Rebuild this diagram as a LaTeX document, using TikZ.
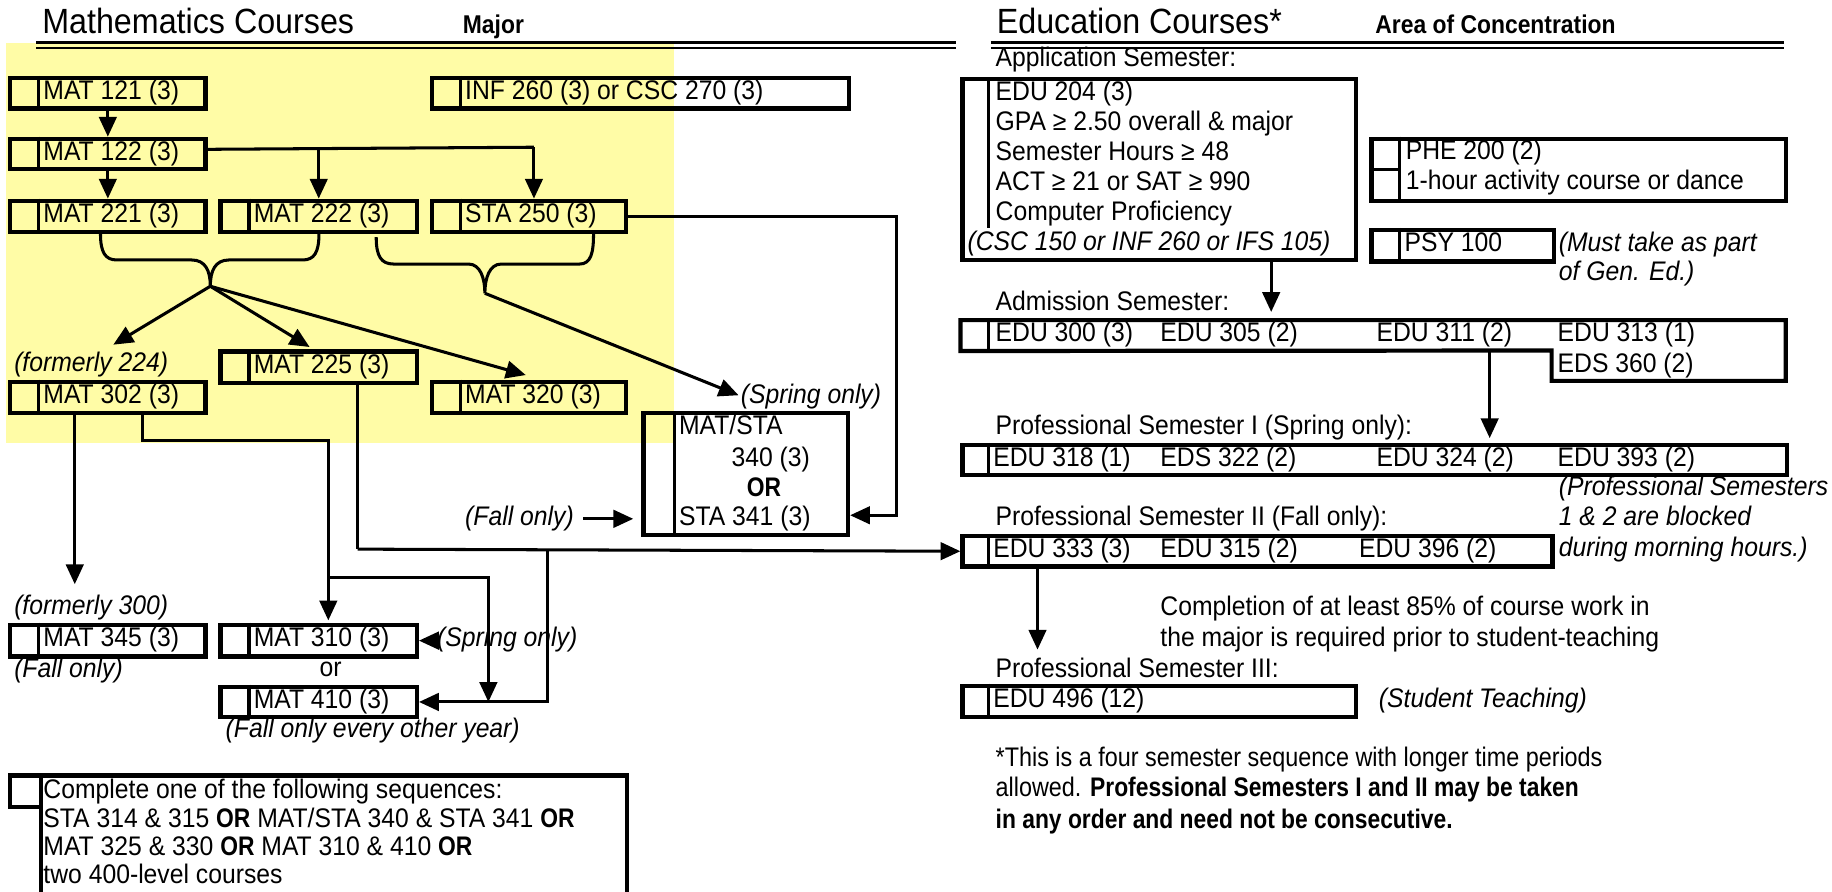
\documentclass[tikz,border=0pt]{standalone}
\usepackage{fontspec}
\setmainfont[FakeStretch=0.92]{Liberation Sans}
\newfontfamily\nrw[FakeStretch=0.85]{Liberation Sans}
\newfontfamily\hnr[FakeStretch=0.89]{Liberation Sans}
\newfontfamily\rnr[FakeStretch=0.87]{Liberation Sans}
\usetikzlibrary{arrows.meta}
\definecolor{ylw}{RGB}{255,252,166}
\tikzset{
  box/.style={draw, line width=3.6pt, anchor=north west, inner sep=0pt, rectangle},
  ghost/.style={anchor=north west, inner sep=0pt, rectangle},
  div/.style={line width=2.8pt},
  txt/.style={anchor=base west, inner sep=0pt, font=\fontsize{23}{26}\selectfont},
  itx/.style={txt, font=\fontsize{23}{26}\selectfont\itshape},
  bnr/.style={txt, font=\fontsize{23}{26}\selectfont\nrw\bfseries},
  rtx/.style={txt, font=\fontsize{23}{26}\selectfont\rnr},
  hdr/.style={txt, font=\fontsize{22}{24}\selectfont\hnr\bfseries},
  ttl/.style={txt, font=\fontsize{30}{32}\selectfont},
  ln/.style={line width=2.6pt},
  con/.style={line width=2.6pt, -{Triangle[length=17pt,width=15pt]}},
}
\newcommand\course[7]{%
  \node[box, minimum width={(#4)-(#2)}, minimum height={(#5)-(#3)}] (#1) at (#2,#3) {};
  \draw[div] ([xshift=#6pt]#1.north west) -- ([xshift=#6pt]#1.south west);
  \node[txt] (#1-t) at ({#2+#6+4},{#3+20.5}) {#7};
}
\begin{document}
\begin{tikzpicture}[x=1pt,y=-1pt]
\useasboundingbox (0,0) rectangle (1568,763);
\fill[white] (0,0) rectangle (1568,763);
\fill[ylw] (5,37) rectangle (577,379);

% headings
\node[ttl] (h1) at (36,29) {Mathematics Courses};
\node[hdr] (h2) at (396,29) {Major};
\node[ttl] (h3) at (853,29) {Education Courses*};
\node[hdr] (h4) at (1177,29) {Area of Concentration};
\draw[line width=2.8pt] (31,36.5) -- (818,36.5);
\draw[line width=1.6pt] (31,41) -- (818,41);
\draw[line width=2.8pt] (848,36.5) -- (1527,36.5);
\draw[line width=1.6pt] (848,41) -- (1527,41);

% mathematics courses
\course{m121}{7}{65}{174}{91}{26}{MAT 121 (3)}
\course{inf}{368}{65}{725}{91}{26}{INF 260 (3) or CSC 270 (3)}
\course{m122}{7}{117}{174}{143}{26}{MAT 122 (3)}
\course{m221}{7}{170}{174}{197}{26}{MAT 221 (3)}
\course{m222}{187}{170}{355}{197}{26}{MAT 222 (3)}
\course{s250}{368}{170}{534}{197}{26}{STA 250 (3)}
\course{m225}{187}{299}{355}{326}{26}{MAT 225 (3)}
\course{m302}{7}{325}{174}{352}{26}{MAT 302 (3)}
\course{m320}{368}{325}{534}{352}{26}{MAT 320 (3)}
\course{m345}{7}{533}{174}{560}{26}{MAT 345 (3)}
\course{m310}{187}{533}{355}{560}{26}{MAT 310 (3)}
\course{m410}{187}{586}{355}{612}{26}{MAT 410 (3)}

\node[itx] (f224) at (12,318) {(formerly 224)};
\node[itx] (spr1) at (634,345) {(Spring only)};
\node[itx] (fallo) at (398,450) {(Fall only)};
\node[itx] (f300) at (12,526) {(formerly 300)};
\node[itx] (fall2) at (12,579.5) {(Fall only)};
\node[itx] (spr2) at (374,553) {(Spring only)};
\node[txt, anchor=base] (or1) at (283,579) {or};
\node[itx] (fevery) at (193,631) {(Fall only every other year)};

% MAT/STA box
\node[box, minimum width=175, minimum height=104] (matsta) at (549,352) {};
\draw[div] ([xshift=28pt]matsta.north west) -- ([xshift=28pt]matsta.south west);
\node[txt] (ms1) at (581,372) {MAT/STA};
\node[txt] (ms2) at (626,399) {340 (3)};
\node[bnr] (ms3) at (639,425) {OR};
\node[txt] (ms4) at (581,449.5) {STA 341 (3)};

% sequences box
\node[box, minimum width=502, minimum height=140] (seq) at (33,662) {};
\node[box, minimum width=26, minimum height=27] (seqsq) at (7,662) {};
\node[txt] (sq1) at (37,683) {Complete one of the following sequences:};
\node[txt] (sq2) at (37,708) {STA 314 \& 315 {\nrw\bfseries OR} MAT/STA 340 \& STA 341 {\nrw\bfseries OR}};
\node[txt] (sq3) at (37,732) {MAT 325 \& 330 {\nrw\bfseries OR} MAT 310 \& 410 {\nrw\bfseries OR}};
\node[txt] (sq4) at (37,756) {two 400-level courses};

% braces
\draw[line width=2.6pt] (86,200) .. controls (86,216) and (90,222.5) .. (100,222.5) -- (164,222.5)
  .. controls (176,222.5) and (180,232) .. (180,245)
  .. controls (180,232) and (184,222.5) .. (196,222.5) -- (259,222.5)
  .. controls (269,222.5) and (273,216) .. (273,200);
\draw[line width=2.6pt] (322,203) .. controls (322,219) and (326,226) .. (337,226) -- (401,226)
  .. controls (411,226) and (415,238) .. (415,251)
  .. controls (415,238) and (419,226) .. (429,226) -- (496,226)
  .. controls (506,226) and (508,216) .. (508,200);
\coordinate (b1) at (180,245);
\coordinate (b2) at (415,251);
\coordinate (a1) at (97,295);
\coordinate (a2) at (265,297);
\coordinate (a3) at (450,321);

% connectors (math)
\draw[con] (m121.south) -- (m122.north);
\draw[con] (m122.south) -- (m221.north);
\coordinate (j250) at (457,126);
\draw[ln] ([yshift=4pt]m122.east) -- (j250);
\draw[con] (j250) -- (j250 |- s250.north);
\draw[con] (m222.north |- j250) -- (m222.north);
\coordinate (c767) at (767,441);
\draw[con] (s250.east) -| (c767) -- (c767 -| matsta.east);
\draw[con, shorten <=8pt, shorten >=7pt] (fallo.east) -- (fallo.east -| matsta.west);
\draw[con] (b1) -- (a1);
\draw[con] (b1) -- (a2);
\draw[con] (b1) -- (a3);
\draw[con, shorten >=2pt] (b2) -- (spr1.west);
\coordinate (k1) at (306,470);
\coordinate (k2) at (469,470);
\draw[ln] (m225.south -| k1) -- (k1);
\coordinate (c345) at (64,500);
\draw[con] (m302.south -| c345) -- (c345);
\coordinate (k4) at (122,377);
\coordinate (k5) at (281,377);
\draw[con] (m302.south -| k4) -- (k4) -- (k5) -- ([yshift=2pt]k5 |- m310.north);
\coordinate (k6) at (281,494);
\coordinate (k7) at (418,494);
\draw[con] (k6) -- (k7) -- (k7 |- m410.east);
\draw[con] (m310.east -| spr2.west) -- (m310.east);

% education courses
\node[txt] (appl) at (852,57) {Application Semester:};
\node[box, minimum width=337, minimum height=155] (app) at (822,66) {};
\draw[div] ([xshift=24pt]app.north west) -- ++(0,129);
\node[txt] (ap1) at (852,86) {EDU 204 (3)};
\node[txt] (ap2) at (852,111.5) {GPA ≥ 2.50 overall \& major};
\node[txt] (ap3) at (852,137) {Semester Hours ≥ 48};
\node[txt] (ap4) at (852,163) {ACT ≥ 21 or SAT ≥ 990};
\node[txt] (ap5) at (852,189) {Computer Proficiency};
\node[itx] (ap6) at (828,214.5) {(CSC 150 or INF 260 or IFS 105)};

\node[box, minimum width=355, minimum height=53] (phe) at (1172,117) {};
\draw[div] ([xshift=26pt]phe.north west) -- ([xshift=26pt]phe.south west);
\draw[div] (phe.west) -- ([xshift=26pt]phe.west);
\node[txt] (phe1) at (1203,136.5) {PHE 200 (2)};
\node[txt] (phe2) at (1203,162.5) {1-hour activity course or dance};
\course{psy}{1172}{195}{1328}{222}{26}{PSY 100}
\node[itx] (must1) at (1334,215) {(Must take as part};
\node[itx] (must2) at (1334,240) {of Gen. Ed.)};

\node[txt] (adml) at (852,266) {Admission Semester:};
\node[ghost, minimum width=706, minimum height=26] (adm) at (822,274) {};
\draw[line width=3.6pt, line join=miter] (adm.north west) -- (adm.north east) -- ++(0,52) -- (1328,326) -- (1328,300) -- (adm.south west) -- cycle;
\draw[div] ([xshift=24pt]adm.north west) -- ([xshift=24pt]adm.south west);
\node[txt] (ad1) at (852,292.5) {EDU 300 (3)};
\node[txt] (ad2) at (993,292.5) {EDU 305 (2)};
\node[txt] (ad3) at (1178,292.5) {EDU 311 (2)};
\node[txt] (ad4) at (1333,292.5) {EDU 313 (1)};
\node[txt] (ad5) at (1333,318.5) {EDS 360 (2)};

\node[txt] (p1l) at (852,372) {Professional Semester I (Spring only):};
\course{p1}{822}{379}{1528}{405}{24}{EDU 318 (1)}
\node[txt] (p1b) at (993,399.5) {EDS 322 (2)};
\node[txt] (p1c) at (1178,399.5) {EDU 324 (2)};
\node[txt] (p1d) at (1333,399.5) {EDU 393 (2)};
\node[itx] (ps1) at (1334,424) {(Professional Semesters};
\node[itx] (ps2) at (1334,450) {1 \& 2 are blocked};
\node[itx] (ps3) at (1334,476) {during morning hours.)};

\node[txt] (p2l) at (852,450) {Professional Semester II (Fall only):};
\course{p2}{822}{457}{1327}{483}{24}{EDU 333 (3)}
\node[txt] (p2b) at (993,477.5) {EDU 315 (2)};
\node[txt] (p2c) at (1163,477.5) {EDU 396 (2)};

\node[txt] (cm1) at (993,527) {Completion of at least 85\% of course work in};
\node[txt] (cm2) at (993,553) {the major is required prior to student-teaching};

\node[txt] (p3l) at (852,580) {Professional Semester III:};
\course{p3}{822}{585}{1159}{612}{24}{EDU 496 (12)}
\node[itx] (stt) at (1180,605.5) {(Student Teaching)};

\node[rtx] (fn1) at (852,656) {*This is a four semester sequence with longer time periods};
\node[rtx] (fn2) at (852,682) {allowed. {\nrw\bfseries Professional Semesters I and II may be taken}};
\node[bnr] (fn3) at (852,709) {in any order and need not be consecutive.};

% connectors (education)
\draw[con] (k1) -- (p2.west);
\draw[con] (k2) |- (m410.east);
\coordinate (c2) at (1088,267);
\draw[con] (app.south -| c2) -- (c2);
\coordinate (c311) at (1275,300);
\draw[con] (c311) -- ([yshift=4pt]c311 |- p1.north);
\coordinate (c3) at (888,556);
\draw[con] (p2.south -| c3) -- (c3);
\end{tikzpicture}
\end{document}
